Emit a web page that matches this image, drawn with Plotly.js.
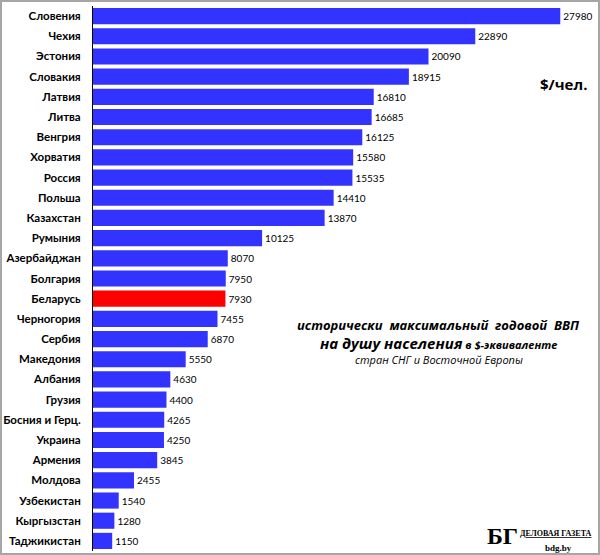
<!DOCTYPE html>
<html><head><meta charset="utf-8">
<script src="https://cdn.plot.ly/plotly-3.0.1.min.js"></script>
<style>
html,body{margin:0;padding:0;background:#fff;}
#wrap{width:600px;height:555px;box-sizing:border-box;border:2px solid #a6a6a6;position:relative;overflow:hidden;}
#chart{position:absolute;left:-2px;top:-2px;width:600px;height:555px;}
</style>
</head><body>
<div id="wrap"><div id="chart"></div></div>
<script>
const countries = ["Словения","Чехия","Эстония","Словакия","Латвия","Литва","Венгрия","Хорватия","Россия","Польша","Казахстан","Румыния","Азербайджан","Болгария","Беларусь","Черногория","Сербия","Македония","Албания","Грузия","Босния и Герц.","Украина","Армения","Молдова","Узбекистан","Кыргызстан","Таджикистан"];
const gdp = [27980,22890,20090,18915,16810,16685,16125,15580,15535,14410,13870,10125,8070,7950,7930,7455,6870,5550,4630,4400,4265,4250,3845,2455,1540,1280,1150];
const highlight = "Беларусь";

const colors = countries.map(c => c === highlight ? "#ff0000" : "#3333ff");

const trace = {
  type: "bar",
  orientation: "h",
  y: countries,
  x: gdp,
  marker: {color: colors},
  text: gdp.map(String),
  textposition: "outside",
  textfont: {family: "Lato, Open Sans, sans-serif", size: 10, color: "#000"},
  cliponaxis: false,
  hoverinfo: "none"
};

const layout = {
  width: 600, height: 555,
  margin: {l: 93, r: 6, t: 6, b: 4},
  paper_bgcolor: "#fff", plot_bgcolor: "#fff",
  bargap: 0.2,
  showlegend: false,
  xaxis: {range: [0, 30000], visible: false, fixedrange: true},
  yaxis: {
    autorange: "reversed",
    showline: true, linecolor: "#000", linewidth: 1,
    ticks: "", showgrid: false, zeroline: false,
    ticklabelstandoff: 9,
    tickfont: {family: "Lato, Open Sans, sans-serif", size: 11.5, color: "#000", weight: "bold"}
  },
  annotations: [
    {xref: "paper", yref: "paper", x: 0.94, y: 0.857, xanchor: "center", yanchor: "middle", showarrow: false,
     text: "<b>$/чел.</b>", font: {family: "Open Sans, sans-serif", size: 15, color: "#000"}},
    {xref: "paper", yref: "paper", x: 0.69, y: 0.414, xanchor: "center", yanchor: "middle", showarrow: false,
     text: "<b><i>исторически  максимальный  годовой  ВВП</i></b>", font: {family: "Open Sans, sans-serif", size: 13, color: "#000"}},
    {xref: "paper", yref: "paper", x: 0.69, y: 0.382, xanchor: "center", yanchor: "middle", showarrow: false,
     text: "<b><i><span style='font-size:15px'>на душу населения</span> в $-эквиваленте</i></b>", font: {family: "Open Sans, sans-serif", size: 11, color: "#000"}},
    {xref: "paper", yref: "paper", x: 0.69, y: 0.351, xanchor: "center", yanchor: "middle", showarrow: false,
     text: "<i>стран СНГ и Восточной Европы</i>", font: {family: "Open Sans, sans-serif", size: 11, color: "#000"}},
    {xref: "paper", yref: "paper", x: 0.818, y: 0.027, xanchor: "center", yanchor: "middle", showarrow: false,
     text: "<b>БГ</b>", font: {family: "Liberation Serif, DejaVu Serif, serif", size: 24, color: "#000"}},
    {xref: "paper", yref: "paper", x: 1.0, y: 0.033, xanchor: "right", yanchor: "middle", showarrow: false,
     text: "<b><u>ДЕЛОВАЯ ГАЗЕТА</u></b>", font: {family: "Liberation Serif, DejaVu Serif, serif", size: 8, color: "#000"}},
    {xref: "paper", yref: "paper", x: 0.93, y: 0.006, xanchor: "center", yanchor: "middle", showarrow: false,
     text: "<b>bdg.by</b>", font: {family: "Liberation Serif, DejaVu Serif, serif", size: 9, color: "#000"}}
  ]
};

Plotly.newPlot("chart", [trace], layout, {staticPlot: true, displayModeBar: false});
</script>
</body></html>
